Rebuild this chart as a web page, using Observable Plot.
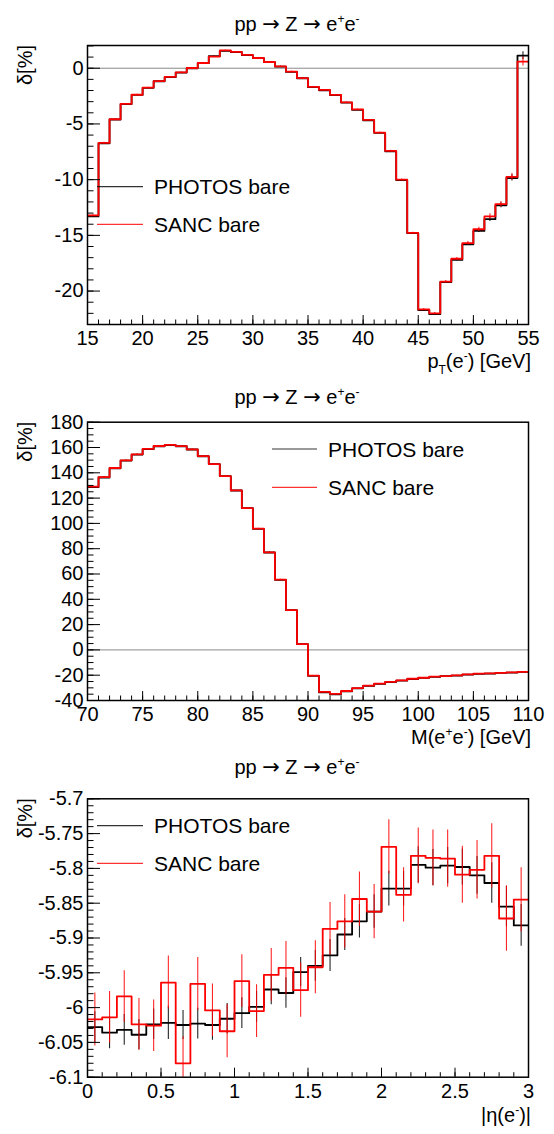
<!DOCTYPE html>
<html><head><meta charset="utf-8">
<script src="https://cdn.jsdelivr.net/npm/d3@7"></script>
<script src="https://cdn.jsdelivr.net/npm/@observablehq/plot@0.6"></script>
<style>
body{margin:0;background:#fff;}
#chart{width:554px;}
#chart svg{display:block;}
</style></head><body><div id="chart"></div>
<script>
// ---------- shared ----------
const seriesNames = ["PHOTOS bare", "SANC bare"];
const seriesColors = ["#000000", "#ff0000"];

// ---------- panel 1 : pT(e-) ----------
const ptBinLow = [15,16,17,18,19,20,21,22,23,24,25,26,27,28,29,30,31,32,33,34,35,36,37,38,39,40,41,42,43,44,45,46,47,48,49,50,51,52,53,54];
const ptPhotos = [-13.3,-6.74,-4.6,-3.22,-2.4,-1.76,-1.17,-0.8,-0.39,0.0,0.45,1.08,1.56,1.44,1.17,0.9,0.54,0.15,-0.33,-0.9,-1.7,-1.98,-2.42,-3.08,-3.74,-4.67,-5.8,-7.45,-10.03,-14.8,-21.7,-22.07,-19.2,-17.2,-15.8,-14.6,-13.55,-12.3,-9.85,1.14];
const ptSanc   = [-13.2,-6.7,-4.58,-3.2,-2.38,-1.74,-1.15,-0.78,-0.37,0.02,0.47,1.05,1.6,1.47,1.2,0.92,0.56,0.17,-0.3,-0.88,-1.68,-1.95,-2.4,-3.06,-3.7,-4.64,-5.78,-7.42,-10.0,-14.78,-21.65,-22.0,-19.15,-17.1,-15.7,-14.45,-13.3,-12.2,-9.75,0.6];
const ptPhotosErr = [0.05,0.04,0.03,0.03,0.03,0.03,0.03,0.03,0.03,0.03,0.03,0.03,0.03,0.03,0.03,0.03,0.03,0.03,0.03,0.03,0.03,0.03,0.03,0.03,0.03,0.03,0.04,0.04,0.05,0.05,0.06,0.07,0.08,0.1,0.12,0.15,0.2,0.22,0.28,0.35];
const ptSancErr   = [0.06,0.05,0.04,0.04,0.04,0.04,0.04,0.04,0.04,0.04,0.04,0.04,0.04,0.04,0.04,0.04,0.04,0.04,0.04,0.04,0.04,0.04,0.04,0.04,0.04,0.04,0.05,0.05,0.06,0.06,0.07,0.08,0.1,0.12,0.15,0.18,0.25,0.25,0.3,0.4];
const ptXTicks = [15,20,25,30,35,40,45,50,55];
const ptYTicks = [-20,-15,-10,-5,0];

// ---------- panel 2 : M(e+e-) ----------
const mBinLow = [70,71,72,73,74,75,76,77,78,79,80,81,82,83,84,85,86,87,88,89,90,91,92,93,94,95,96,97,98,99,100,101,102,103,104,105,106,107,108,109];
const mPhotos = [128.6,136.3,143.6,149.7,154.4,158.7,161.0,161.8,161.0,158.4,153.1,146.8,137.3,126.0,112.0,95.7,77.0,55.4,31.4,4.5,-20.5,-33.6,-35.2,-32.8,-30.4,-28.5,-26.9,-25.4,-24.3,-23.0,-22.1,-21.3,-20.8,-20.3,-19.5,-18.9,-18.7,-18.2,-17.9,-17.4];
const mSanc   = [129.0,136.6,143.8,149.9,154.6,158.9,161.2,162.0,161.1,158.5,153.2,146.9,137.4,126.1,112.1,95.8,77.1,55.5,31.5,4.6,-20.4,-33.2,-34.8,-32.5,-30.2,-28.3,-26.7,-25.2,-24.1,-22.8,-22.0,-21.2,-20.7,-20.2,-19.4,-18.8,-18.6,-18.1,-17.8,-17.3];
const mPhotosErr = [0.3,0.3,0.3,0.3,0.3,0.3,0.3,0.3,0.3,0.3,0.3,0.3,0.3,0.3,0.3,0.3,0.3,0.3,0.2,0.1,0.1,0.1,0.1,0.1,0.1,0.1,0.1,0.1,0.1,0.1,0.1,0.1,0.1,0.1,0.1,0.1,0.1,0.1,0.1,0.1];
const mSancErr   = [0.4,0.4,0.4,0.4,0.4,0.4,0.4,0.4,0.4,0.4,0.4,0.4,0.4,0.4,0.4,0.4,0.4,0.4,0.3,0.2,0.1,0.1,0.1,0.1,0.1,0.1,0.1,0.1,0.1,0.1,0.1,0.1,0.1,0.1,0.1,0.1,0.1,0.1,0.1,0.1];
const mXTicks = [70,75,80,85,90,95,100,105,110];
const mYTicks = [-40,-20,0,20,40,60,80,100,120,140,160,180];

// ---------- panel 3 : |eta(e-)| ----------
const etaBinLow = [0,0.1,0.2,0.3,0.4,0.5,0.6,0.7,0.8,0.9,1.0,1.1,1.2,1.3,1.4,1.5,1.6,1.7,1.8,1.9,2.0,2.1,2.2,2.3,2.4,2.5,2.6,2.7,2.8,2.9];
const etaPhotos = [-6.028,-6.036,-6.032,-6.039,-6.024,-6.022,-6.025,-6.023,-6.025,-6.016,-6.008,-5.999,-5.974,-5.979,-5.949,-5.940,-5.925,-5.895,-5.876,-5.862,-5.829,-5.829,-5.795,-5.799,-5.796,-5.798,-5.810,-5.821,-5.855,-5.882];
const etaSanc   = [-6.017,-6.014,-5.984,-6.024,-6.026,-5.964,-6.080,-5.966,-6.004,-6.034,-5.962,-6.005,-5.953,-5.943,-5.975,-5.942,-5.887,-5.876,-5.844,-5.862,-5.769,-5.838,-5.782,-5.785,-5.786,-5.809,-5.802,-5.782,-5.872,-5.845];
const etaPhotosErr = [0.022,0.023,0.022,0.022,0.022,0.024,0.021,0.022,0.022,0.022,0.022,0.022,0.022,0.022,0.021,0.022,0.023,0.023,0.024,0.024,0.025,0.025,0.026,0.026,0.026,0.026,0.027,0.029,0.029,0.030];
const etaSancErr   = [0.038,0.037,0.037,0.037,0.037,0.038,0.038,0.038,0.038,0.038,0.038,0.038,0.038,0.038,0.039,0.038,0.038,0.038,0.039,0.039,0.039,0.039,0.040,0.040,0.041,0.041,0.042,0.046,0.047,0.046];
const etaXTicks = [0,0.5,1,1.5,2,2.5,3];
const etaYTicks = [-6.1,-6.05,-6,-5.95,-5.9,-5.85,-5.8,-5.75,-5.7];

const titleParts = [{t:"pp "},{t:"\u2192",arrow:true},{t:" Z "},{t:"\u2192",arrow:true},{t:" e"},{t:"+",sup:true},{t:"e"},{t:"-",sup:true}];
const yTitle = "\u03b4[%]";

// ---------- helpers ----------
function stepRows(lo, w, vals) {
  const rows = lo.map((x, i) => ({x, y: vals[i]}));
  rows.push({x: lo[lo.length - 1] + w, y: vals[vals.length - 1]});
  return rows;
}
function errRows(lo, w, vals, errs) {
  return lo.map((x, i) => ({x: x + w / 2, y1: vals[i] - errs[i], y2: vals[i] + errs[i]}));
}
function richText(sel, parts, size) {
  let shift = 0;
  parts.forEach(p => {
    const t = sel.append("tspan").text(p.t);
    let target = p.sup ? -0.4 * size : p.sub ? 0.3 * size : 0;
    if (target !== shift) { t.attr("dy", target - shift); shift = target; }
    if (p.sup || p.sub) t.attr("font-size", Math.round(size * 0.6));
    if (p.arrow) t.attr("font-family", "'DejaVu Sans', sans-serif").attr("font-size", size * 1.05);
  });
}

const FONT = "'Liberation Sans', Arial, Helvetica, sans-serif";

function panel(cfg) {
  const w = cfg.binW;
  const marks = [];
  if (cfg.zero) marks.push(Plot.ruleY([0], {stroke: "#8a8a8a", strokeWidth: 1}));
  cfg.series.forEach((s, k) => {
    marks.push(Plot.ruleX(errRows(cfg.lo, w, s.vals, s.errs), {x: "x", y1: "y1", y2: "y2", stroke: seriesColors[k], strokeWidth: 1.1, strokeOpacity: 0.85, clip: true}));
    marks.push(Plot.line(stepRows(cfg.lo, w, s.vals), {x: "x", y: "y", curve: "step-after", stroke: seriesColors[k], strokeWidth: 1.8, clip: true}));
  });
  marks.push(Plot.axisY({ticks: cfg.yMinor, tickSize: -6.5, tickFormat: () => "", label: null, strokeWidth: 1}));
  marks.push(Plot.axisY({ticks: cfg.yTicks, tickSize: -13, tickPadding: 17, tickFormat: d => String(d), fontSize: 20, label: null, strokeWidth: 1}));
  marks.push(Plot.axisX({ticks: cfg.xMinor, tickSize: -4.5, tickFormat: () => "", label: null, strokeWidth: 1}));
  marks.push(Plot.axisX({ticks: cfg.xTicks, tickSize: -9, tickPadding: 15.5, tickFormat: d => String(d), fontSize: 20, label: null, strokeWidth: 1}));
  marks.push(Plot.frame({stroke: "#000", strokeWidth: 1.5}));

  const svgNode = Plot.plot({
    width: 554, height: cfg.height,
    marginTop: cfg.mt, marginBottom: cfg.mb, marginLeft: 87, marginRight: 26,
    x: {domain: cfg.xDomain, label: null},
    y: {domain: cfg.yDomain, label: null},
    style: {fontFamily: FONT, fontSize: "20px", color: "#000", background: "#fff", overflow: "visible"},
    marks
  });
  const svg = d3.select(svgNode);
  const frameTop = cfg.mt, frameBottom = cfg.height - cfg.mb;

  // title
  richText(svg.append("text").attr("x", 297).attr("y", cfg.titleY).attr("text-anchor", "middle")
    .attr("font-size", 20).attr("fill", "#000"), titleParts, 20);
  // y title
  svg.append("text").attr("transform", `translate(32,${frameTop}) rotate(-90)`).attr("text-anchor", "end")
    .attr("font-size", 20).attr("fill", "#000").text(yTitle);
  // x title
  richText(svg.append("text").attr("x", 531).attr("y", frameBottom + cfg.xTitleDy).attr("text-anchor", "end")
    .attr("font-size", 20).attr("fill", "#000"), cfg.xTitle, 20);
  // legend
  const L = cfg.legend;
  seriesNames.forEach((name, k) => {
    const ly = L.y + k * L.gap;
    svg.append("line").attr("x1", L.x1).attr("x2", L.x2).attr("y1", ly).attr("y2", ly)
      .attr("stroke", seriesColors[k]).attr("stroke-width", 1.2).attr("stroke-opacity", 0.8);
    svg.append("text").attr("x", L.tx).attr("y", ly + 7.5).attr("text-anchor", "start")
      .attr("font-size", 21).attr("fill", "#000").text(name);
  });
  document.getElementById("chart").appendChild(svgNode);
}

function minorTicks(a, b, n) { const out = []; for (let i = 0; i <= n; i++) out.push(a + (b - a) * i / n); return out; }

panel({
  height: 377, mt: 45, mb: 53, binW: 1, lo: ptBinLow,
  series: [{vals: ptPhotos, errs: ptPhotosErr}, {vals: ptSanc, errs: ptSancErr}],
  xDomain: [15, 55], yDomain: [-23, 2.04], zero: true,
  xTicks: ptXTicks, xMinor: minorTicks(15, 55, 40), yTicks: ptYTicks, yMinor: minorTicks(-23, 2, 25),
  titleY: 30.5, xTitleDy: 44,
  xTitle: [{t:"p"},{t:"T",sub:true},{t:"(e"},{t:"-",sup:true},{t:") [GeV]"}],
  legend: {x1: 97, x2: 143, tx: 154, y: 186.7, gap: 37.6}
});
panel({
  height: 376, mt: 44.7, mb: 53, binW: 1, lo: mBinLow,
  series: [{vals: mPhotos, errs: mPhotosErr}, {vals: mSanc, errs: mSancErr}],
  xDomain: [70, 110], yDomain: [-40, 180], zero: true,
  xTicks: mXTicks, xMinor: minorTicks(70, 110, 40), yTicks: mYTicks, yMinor: minorTicks(-40, 180, 44),
  titleY: 26.5, xTitleDy: 44,
  xTitle: [{t:"M(e"},{t:"+",sup:true},{t:"e"},{t:"-",sup:true},{t:") [GeV]"}],
  legend: {x1: 272, x2: 317, tx: 328, y: 72, gap: 38.3}
});
panel({
  height: 381, mt: 45.3, mb: 57.3, binW: 0.1, lo: etaBinLow,
  series: [{vals: etaPhotos, errs: etaPhotosErr}, {vals: etaSanc, errs: etaSancErr}],
  xDomain: [0, 3], yDomain: [-6.1, -5.7], zero: false,
  xTicks: etaXTicks, xMinor: minorTicks(0, 3, 30), yTicks: etaYTicks, yMinor: minorTicks(-6.1, -5.7, 40),
  titleY: 21, xTitleDy: 45,
  xTitle: [{t:"|\u03b7(e"},{t:"-",sup:true},{t:")|"}],
  legend: {x1: 97, x2: 143, tx: 154, y: 72.7, gap: 37.6}
});
</script>
</body></html>
